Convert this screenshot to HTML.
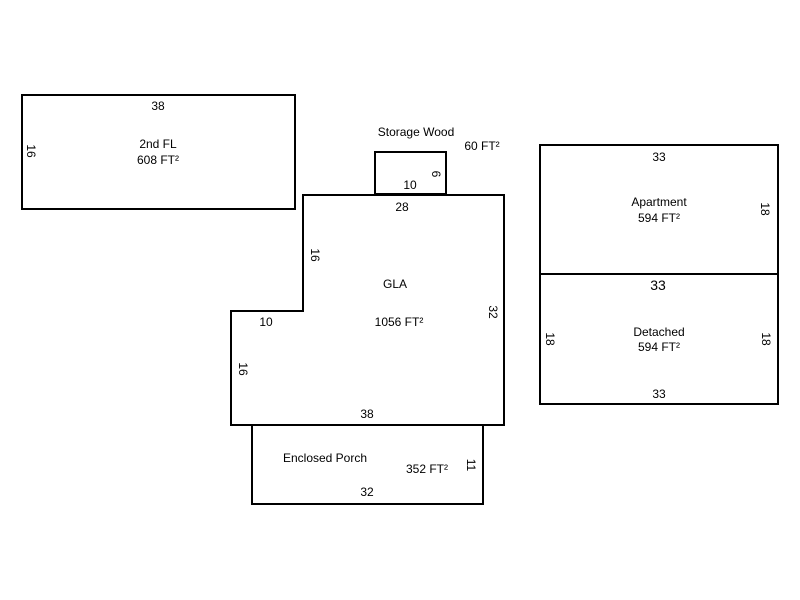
<!DOCTYPE html>
<html><head><style>body{margin:0;background:#fff}svg{display:block}text{font-family:"Liberation Sans",Arial,sans-serif;font-size:12px;fill:#000}</style></head>
<body>
<svg width="800" height="600" viewBox="0 0 800 600">
<g fill="none" stroke="#000" stroke-width="2">
<rect x="22" y="95" width="273" height="114"/>
<rect x="375" y="152" width="71" height="42"/>
<polygon points="303,195 504,195 504,425 231,425 231,311 303,311"/>
<rect x="252" y="425" width="231" height="79"/>
<rect x="540" y="145" width="238" height="129"/>
<rect x="540" y="274" width="238" height="130"/>
</g>
<g text-anchor="middle">
<text x="158" y="110">38</text>
<text x="158" y="148">2nd FL</text>
<text x="158" y="164">608 FT²</text>
<text transform="translate(27,151) rotate(90)">16</text>
<text x="416" y="136">Storage Wood</text>
<text x="482" y="150">60 FT²</text>
<text x="410" y="189">10</text>
<text transform="translate(432,174) rotate(90)">6</text>
<text x="402" y="211">28</text>
<text transform="translate(311,255) rotate(90)">16</text>
<text x="395" y="288">GLA</text>
<text x="399" y="326">1056 FT²</text>
<text transform="translate(489,312) rotate(90)">32</text>
<text x="266" y="326">10</text>
<text transform="translate(239,369) rotate(90)">16</text>
<text x="367" y="418">38</text>
<text x="325" y="462">Enclosed Porch</text>
<text x="427" y="473">352 FT²</text>
<text transform="translate(467,465) rotate(90)">11</text>
<text x="367" y="496">32</text>
<text x="659" y="161">33</text>
<text x="659" y="206">Apartment</text>
<text x="659" y="222">594 FT²</text>
<text transform="translate(761,209) rotate(90)">18</text>
<text x="658" y="290" style="font-size:14px">33</text>
<text x="659" y="336">Detached</text>
<text x="659" y="351">594 FT²</text>
<text transform="translate(546,339) rotate(90)">18</text>
<text transform="translate(762,339) rotate(90)">18</text>
<text x="659" y="398">33</text>
</g>
</svg>
</body></html>
